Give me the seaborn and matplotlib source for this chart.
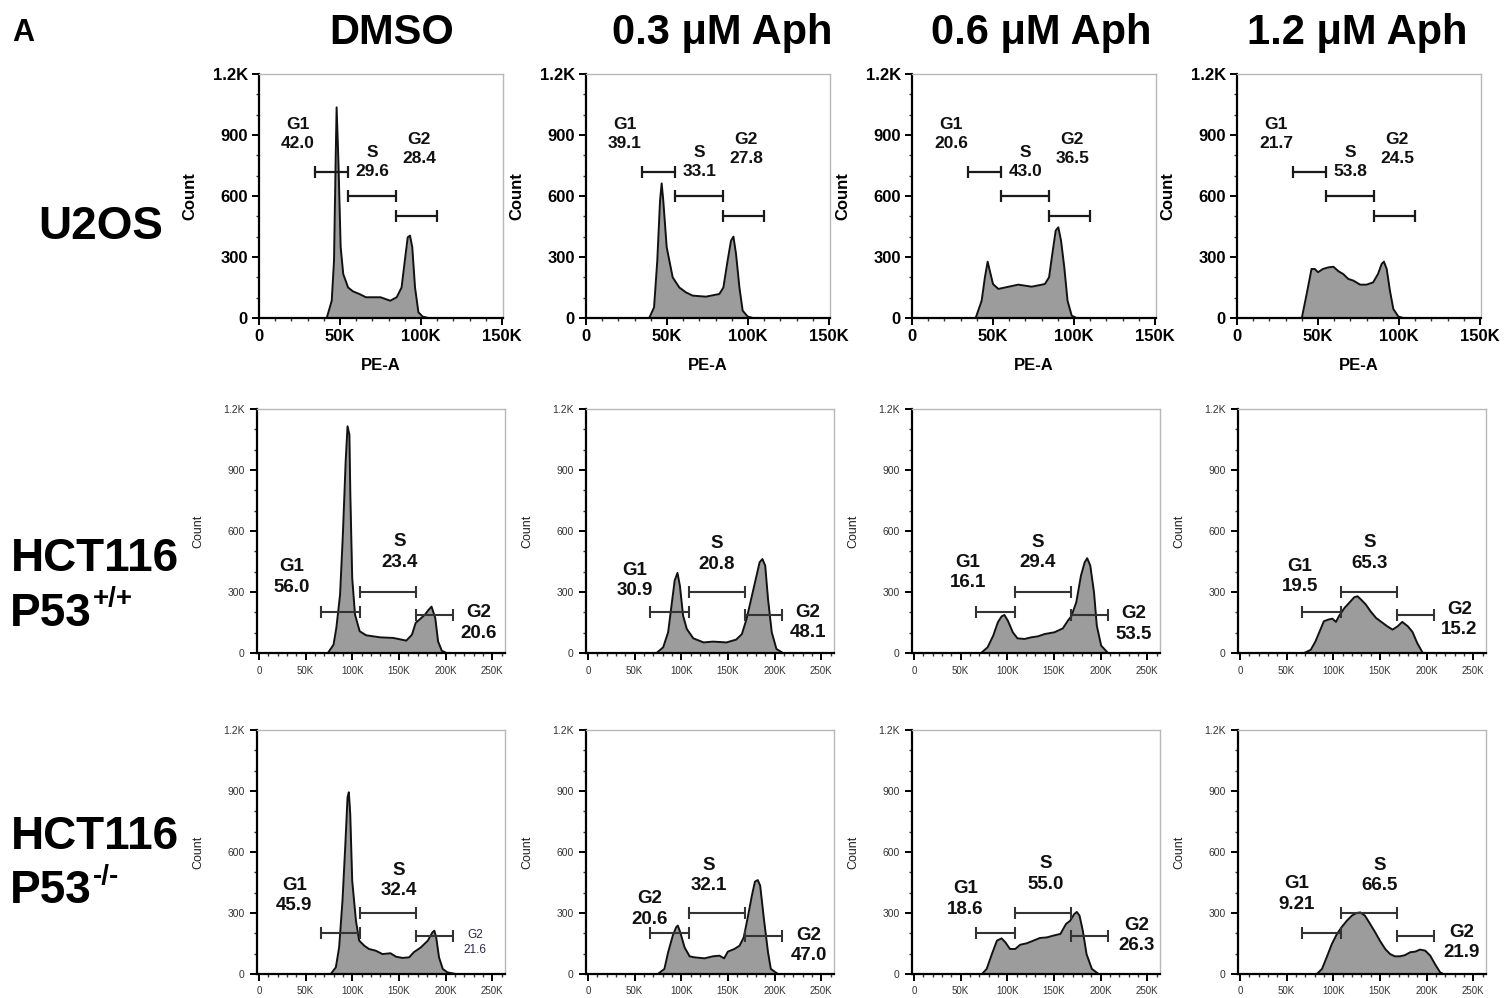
import matplotlib
matplotlib.use('Agg')
import matplotlib.pyplot as plt
import seaborn as sns
import numpy as np
from matplotlib.ticker import MultipleLocator

sns.set_theme(style='ticks')
plt.rcParams['font.family'] = ['Liberation Sans', 'DejaVu Sans']
plt.rcParams['text.color'] = 'black'
plt.rcParams['axes.labelcolor'] = 'black'
plt.rcParams['xtick.color'] = 'black'
plt.rcParams['ytick.color'] = 'black'

W, H = 1504, 998

conditions = ['DMSO', '0.3 μM Aph', '0.6 μM Aph', '1.2 μM Aph']

# ---- histogram outlines, PE-A in thousands vs count ----
# U2OS
u2os_dmso_x = [41.8, 44.9, 46.3, 47.3, 47.9, 49.0, 50.4, 52.0, 55.0, 58.0, 62.0, 66.0, 75.0, 81.0, 85.0,
               88.0, 90.0, 91.8, 93.2, 94.6, 96.3, 98.4, 101.0, 104.5]
u2os_dmso_y = [0, 85, 282, 774, 1036, 774, 348, 216, 150, 131, 118, 102, 102, 85, 102,
               150, 282, 397, 405, 348, 150, 28, 7, 0]
u2os_03_x = [39.0, 42.0, 44.0, 45.7, 46.7, 47.7, 49.8, 53.5, 57.6, 61.7, 65.8, 74.0, 82.3, 84.8, 87.4,
             89.5, 91.0, 92.6, 94.7, 96.7, 99.8, 103.0]
u2os_03_y = [0, 52, 282, 577, 662, 577, 348, 200, 150, 126, 110, 105, 118, 150, 282,
             380, 400, 315, 150, 36, 7, 0]
u2os_06_x = [39.3, 43.0, 45.0, 46.7, 48.0, 50.0, 53.3, 57.4, 65.6, 73.9, 82.0, 84.6, 86.6, 88.7, 90.3,
             92.0, 94.0, 96.0, 98.6, 101.6]
u2os_06_y = [0, 85, 200, 277, 233, 167, 143, 150, 164, 154, 167, 200, 315, 430, 446,
             380, 249, 85, 11, 0]
u2os_12_x = [40.0, 43.0, 46.0, 48.0, 50.0, 53.0, 56.4, 59.5, 62.6, 65.6, 68.7, 71.8, 76.0, 80.0, 84.0,
             87.0, 89.3, 90.7, 92.4, 94.4, 96.5, 99.6, 102.7]
u2os_12_y = [0, 118, 241, 241, 225, 241, 249, 252, 230, 216, 192, 184, 164, 164, 175,
             216, 266, 277, 241, 134, 44, 7, 0]

# HCT116 P53+/+
wt_dmso_x = [74, 80, 83, 87, 90, 93, 95, 97, 98, 100, 103, 108, 115, 130, 144, 158, 164, 168, 172,
             178, 182, 185, 189, 192, 196, 201]
wt_dmso_y = [0, 41, 123, 287, 582, 943, 1115, 1074, 779, 369, 189, 107, 87, 77, 74, 61, 90, 148, 164,
             189, 213, 228, 172, 57, 11, 0]
wt_03_x = [73.6, 80.7, 86, 89.6, 93, 96, 98.6, 102, 106, 113, 124, 134, 148.6, 159, 165, 170, 175,
           180.7, 184, 187, 190, 193, 197, 202, 209]
wt_03_y = [0, 28, 102, 233, 356, 394, 331, 184, 118, 72, 52, 56, 52, 66, 93, 167, 266,
           380, 446, 462, 430, 266, 102, 20, 0]
wt_06_x = [72, 79, 85, 90, 94, 97, 100.7, 106, 111, 118.6, 125.7, 133, 140, 150.7, 159.6, 165, 168.6,
           174, 179, 183, 185.7, 189, 193, 196, 200.7, 208]
wt_06_y = [0, 28, 85, 151, 180, 187, 159, 102, 72, 69, 77, 82, 93, 102, 121, 159, 180,
           249, 380, 446, 466, 430, 298, 134, 36, 0]
wt_12_x = [69, 76, 81, 87, 90, 94.6, 99, 103, 106, 112, 117, 122.5, 126, 130, 135, 140, 146, 153, 158,
           163.6, 169, 174, 180, 185, 190, 196]
wt_12_y = [0, 16, 57, 123, 156, 164, 169, 153, 180, 221, 246, 274, 279, 262, 238, 205, 172, 148, 131,
           115, 131, 153, 131, 103, 49, 0]

# HCT116 P53-/-
ko_dmso_x = [77, 82.5, 86, 89.6, 92.5, 95, 96.4, 97.9, 100, 104, 107.5, 113, 118, 125, 132.5, 141, 147,
             154, 161, 166, 173.6, 181, 186, 188, 190, 193, 197, 202, 211]
ko_dmso_y = [0, 33, 131, 361, 623, 869, 894, 787, 459, 262, 164, 139, 123, 115, 98, 102, 85,
             79, 82, 107, 131, 164, 205, 213, 180, 82, 25, 8, 0]
ko_03_x = [75, 82, 86, 91, 94.6, 96.4, 99, 103.6, 109, 114, 125, 134, 141, 146, 150, 157, 162.5, 167,
           171, 175.7, 179, 182, 184.6, 188.6, 193, 196, 203.6]
ko_03_y = [0, 25, 107, 189, 230, 238, 205, 131, 87, 82, 77, 87, 90, 77, 110, 123, 139, 180,
           271, 385, 454, 462, 435, 271, 107, 25, 0]
ko_06_x = [73, 78, 83.6, 89, 92.5, 94, 98, 103, 108.6, 114, 121, 128, 135, 142.5, 149.6, 157, 163,
           167.5, 171.8, 174.6, 177.5, 181, 185, 190.7, 198]
ko_06_y = [0, 25, 98, 164, 172, 175, 156, 123, 123, 144, 151, 164, 177, 180, 189, 197, 246,
           262, 295, 305, 287, 213, 98, 25, 0]
ko_12_x = [82.5, 88, 93, 98.6, 104, 109, 114.6, 120, 125, 129, 134, 139.6, 145, 150, 155.7, 161, 166,
           171.8, 177, 182.5, 188, 193, 198.6, 204, 209, 214.6, 218]
ko_12_y = [0, 25, 82, 148, 197, 230, 262, 287, 300, 303, 287, 246, 205, 164, 123, 98, 87,
           87, 93, 107, 110, 120, 115, 90, 49, 8, 0]

curves = [
    [(u2os_dmso_x, u2os_dmso_y), (u2os_03_x, u2os_03_y), (u2os_06_x, u2os_06_y), (u2os_12_x, u2os_12_y)],
    [(wt_dmso_x, wt_dmso_y), (wt_03_x, wt_03_y), (wt_06_x, wt_06_y), (wt_12_x, wt_12_y)],
    [(ko_dmso_x, ko_dmso_y), (ko_03_x, ko_03_y), (ko_06_x, ko_06_y), (ko_12_x, ko_12_y)],
]

# ---- gate percentages ----
u2os_g1 = ['42.0', '39.1', '20.6', '21.7']
u2os_s = ['29.6', '33.1', '43.0', '53.8']
u2os_g2 = ['28.4', '27.8', '36.5', '24.5']
wt_g1 = ['56.0', '30.9', '16.1', '19.5']
wt_s = ['23.4', '20.8', '29.4', '65.3']
wt_g2 = ['20.6', '48.1', '53.5', '15.2']
ko_g1 = ['45.9', '20.6', '18.6', '9.21']
ko_s = ['32.4', '32.1', '55.0', '66.5']
ko_g2 = ['21.6', '47.0', '26.3', '21.9']
# first gate of HCT116 P53-/- 0.3 uM is labelled "G2" in the original
ko_first_name = ['G1', 'G2', 'G1', 'G1']

# gate ranges (K) and heights (count)
u2os_gates = [(34.5, 55.0, 720), (55.0, 84.5, 600), (84.5, 110.0, 500)]
hct_gates = [(67.0, 108.0, 200), (108.0, 168.0, 300), (168.0, 208.0, 185)]

# ---- layout (pixels) ----
def rect(left, top, width, height):
    return [left / W, 1 - (top + height) / H, width / W, height / H]

col_left = [[259, 586, 912, 1237], [257, 586, 912, 1238], [257, 586, 912, 1238]]
row_top = [74, 409, 730]
ax_w = [244, 248, 248]
ax_h = 244

# label centres in data coords, per row / column: (G1, S, G2)
lab_r1 = [(24, 905), (70, 767), (99, 833)]
lab_hct = [
    [[(35, 374), (151, 497), (235, 148)], [(50, 356), (138, 487), (236, 151)],
     [(58, 397), (133, 495), (236, 143)], [(64, 377), (139, 492), (235, 164)]],
    [[(38, 385), (150, 459), (232, 156)], [(66, 320), (130, 484), (237, 139)],
     [(55, 369), (141, 492), (239, 189)], [(61, 394), (150, 484), (238, 156)]],
]

fill_c = '#9c9c9c'
fig = plt.figure(figsize=(W / 100, H / 100), dpi=100)

for r in range(3):
    for c in range(4):
        ax = fig.add_axes(rect(col_left[r][c], row_top[r], ax_w[r], ax_h))
        x, y = curves[r][c]
        ax.fill_between(x, y, color=fill_c, lw=0, zorder=1)
        sns.lineplot(x=x, y=y, ax=ax, color='#111111', lw=1.4, sort=False, estimator=None, zorder=2)

        ax.set_ylim(0, 1200)
        ax.set_yticks([0, 300, 600, 900, 1200])
        ax.yaxis.set_minor_locator(MultipleLocator(100))
        ax.xaxis.set_minor_locator(MultipleLocator(10))
        for s in ['left', 'bottom']:
            ax.spines[s].set_color('black')
            ax.spines[s].set_linewidth(1.6)
        for s in ['top', 'right']:
            ax.spines[s].set_visible(True)
            ax.spines[s].set_color('#b8b8b8')
            ax.spines[s].set_linewidth(1.0)

        if r == 0:
            ax.set_xlim(0, 150.6)
            ax.set_xticks([0, 50, 100, 150])
            ax.set_xticklabels(['0', '50K', '100K', '150K'], fontsize=12, fontweight='bold')
            ax.set_yticklabels(['0', '300', '600', '900', '1.2K'], fontsize=12, fontweight='bold')
            ax.tick_params(which='major', length=5, width=1.4, color='black', pad=3)
            ax.tick_params(which='minor', length=2.5, width=1.0, color='#333333')
            ax.set_ylabel('Count', fontsize=12, fontweight='bold')
            ax.yaxis.set_label_coords(-62 / 244, 0.5)
            ax.set_xlabel('PE-A', fontsize=12, fontweight='bold')
            ax.xaxis.set_label_coords(0.5, -40 / 244)
            names = ['G1', 'S', 'G2']
            vals = [u2os_g1[c], u2os_s[c], u2os_g2[c]]
            for (a, b, gy) in u2os_gates:
                ax.plot([a, b], [gy, gy], color='#1a1a1a', lw=1.6, marker='|', ms=8, mew=1.6, zorder=3)
            for (tx, ty), n, v in zip(lab_r1, names, vals):
                ax.text(tx, ty, f'{n}\n{v}', ha='center', va='center', fontsize=12.5,
                        fontweight='bold', linespacing=1.35, color='#111111')
        else:
            ax.set_xlim(-2, 263.7)
            ax.set_xticks([0, 50, 100, 150, 200, 250])
            ax.set_xticklabels(['0', '50K', '100K', '150K', '200K', '250K'], fontsize=7, color='#333333')
            ax.set_yticklabels(['0', '300', '600', '900', '1.2K'], fontsize=7.5, color='#333333')
            ax.tick_params(which='major', length=5, width=1.4, color='black', pad=4)
            ax.tick_params(which='minor', length=2.5, width=1.0, color='#333333')
            ax.set_ylabel('Count', fontsize=9, color='#222222')
            ax.yaxis.set_label_coords(-53 / 248, 0.5)
            ax.set_xlabel('')
            if r == 1:
                vals = [wt_g1[c], wt_s[c], wt_g2[c]]
                names = ['G1', 'S', 'G2']
            else:
                vals = [ko_g1[c], ko_s[c], ko_g2[c]]
                names = [ko_first_name[c], 'S', 'G2']
            for (a, b, gy) in hct_gates:
                ax.plot([a, b], [gy, gy], color='#333333', lw=1.5, marker='|', ms=9, mew=1.5, zorder=3)
            for k, ((tx, ty), n, v) in enumerate(zip(lab_hct[r - 1][c], names, vals)):
                if r == 2 and c == 0 and k == 2:
                    ax.text(tx, ty, f'{n}\n{v}', ha='center', va='center', fontsize=8.5,
                            linespacing=1.3, color='#2a2a45')
                else:
                    ax.text(tx, ty, f'{n}\n{v}', ha='center', va='center', fontsize=13.5,
                            fontweight='bold', linespacing=1.25, color='#111111')

# ---- figure texts ----
def ftext(x, y, s, **kw):
    return fig.text(x / W, 1 - y / H, s, **kw)

ftext(12, 41, 'A', fontsize=22, fontweight='bold', ha='left', va='baseline')
title_x = [392, 722, 1041, 1357]
for tx, cond in zip(title_x, conditions):
    ftext(tx, 44, cond, fontsize=30, fontweight='bold', ha='center', va='baseline')

ftext(101, 239, 'U2OS', fontsize=33, fontweight='bold', ha='center', va='baseline')
ftext(95, 571, 'HCT116', fontsize=33, fontweight='bold', ha='center', va='baseline')
ftext(95, 849, 'HCT116', fontsize=33, fontweight='bold', ha='center', va='baseline')

renderer = fig.canvas.get_renderer()
for base, sup, sup_base in [(626, '+/+', 606), (903, '-/-', 884)]:
    t = ftext(10, base, 'P53', fontsize=33, fontweight='bold', ha='left', va='baseline')
    x1 = t.get_window_extent(renderer).x1
    fig.text(x1 / W + 1 / W, 1 - sup_base / H, sup, fontsize=20, fontweight='bold',
             ha='left', va='baseline')

fig.savefig('out.png', dpi=100)
